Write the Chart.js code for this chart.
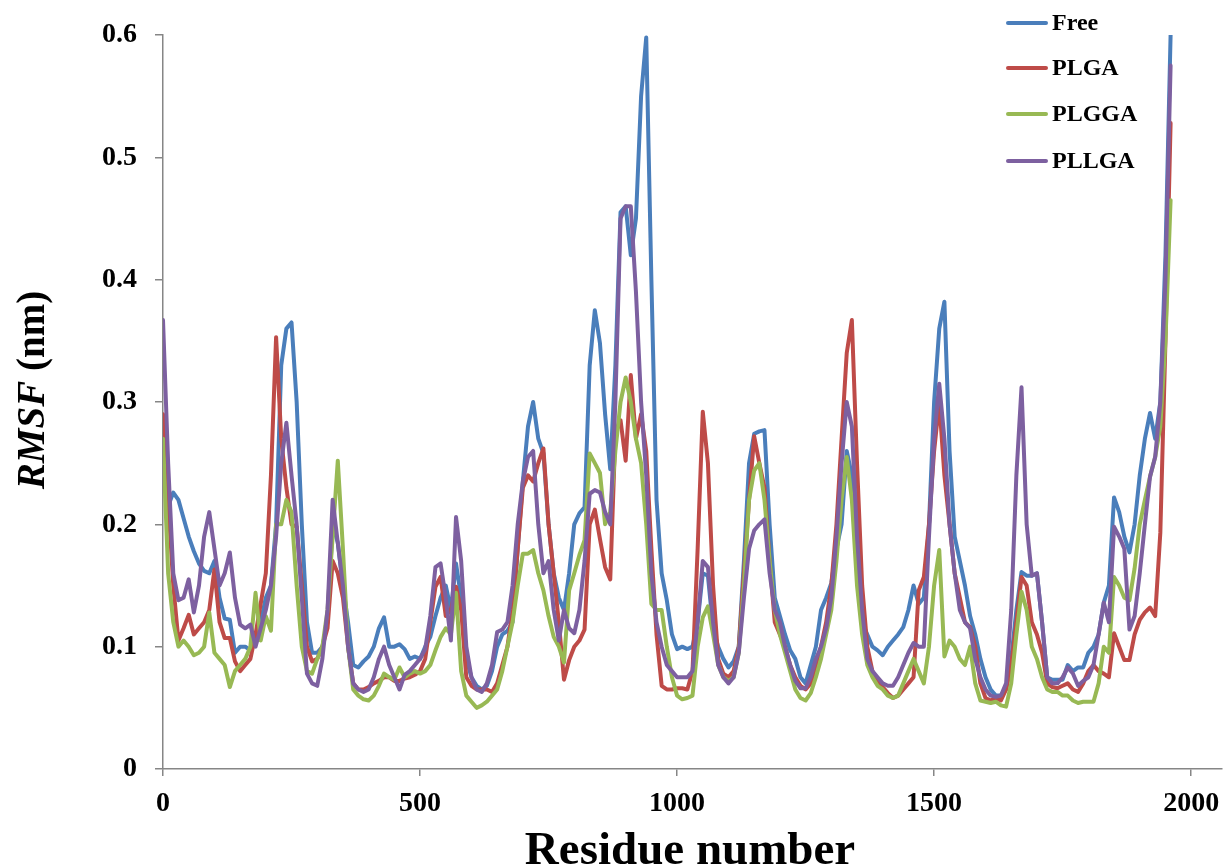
<!DOCTYPE html>
<html>
<head>
<meta charset="utf-8">
<script src="https://cdn.jsdelivr.net/npm/chart.js@4.4.1/dist/chart.umd.min.js"></script>
<style>
html,body{margin:0;padding:0;background:#ffffff;}
#wrap{width:1226px;height:868px;position:relative;}
canvas{display:block;}
</style>
</head>
<body>
<div id="wrap"><canvas id="c" width="1226" height="868"></canvas></div>
<script>
// ---- data ----
const residues = [
0,10,20,30,40,50,60,70,80,90,
100,110,120,130,140,150,160,170,180,190,
200,210,220,230,240,250,260,270,280,290,
300,310,320,330,340,350,360,370,380,390,
400,410,420,430,440,450,460,470,480,490,
500,510,520,530,540,550,560,570,580,590,
600,610,620,630,640,650,660,670,680,690,
700,710,720,730,740,750,760,770,780,790,
800,810,820,830,840,850,860,870,880,890,
900,910,920,930,940,950,960,970,980,990,
1000,1010,1020,1030,1040,1050,1060,1070,1080,1090,
1100,1110,1120,1130,1140,1150,1160,1170,1180,1190,
1200,1210,1220,1230,1240,1250,1260,1270,1280,1290,
1300,1310,1320,1330,1340,1350,1360,1370,1380,1390,
1400,1410,1420,1430,1440,1450,1460,1470,1480,1490,
1500,1510,1520,1530,1540,1550,1560,1570,1580,1590,
1600,1610,1620,1630,1640,1650,1660,1670,1680,1690,
1700,1710,1720,1730,1740,1750,1760,1770,1780,1790,
1800,1810,1820,1830,1840,1850,1860,1870,1880,1890,
1900,1910,1920,1930,1940,1950,1960
];

const rmsfFree = [
0.27,0.215,0.226,0.22,0.205,0.19,0.178,0.168,0.162,0.16,
0.17,0.14,0.123,0.122,0.095,0.1,0.1,0.097,0.108,0.12,
0.14,0.15,0.2,0.33,0.36,0.365,0.3,0.2,0.12,0.095,
0.095,0.1,0.12,0.2,0.185,0.15,0.12,0.085,0.083,0.088,
0.092,0.1,0.115,0.124,0.1,0.1,0.102,0.098,0.09,0.092,
0.09,0.1,0.108,0.125,0.14,0.15,0.13,0.168,0.14,0.09,
0.075,0.068,0.065,0.068,0.08,0.1,0.11,0.113,0.12,0.18,
0.235,0.28,0.3,0.27,0.258,0.2,0.16,0.14,0.13,0.16,
0.2,0.209,0.214,0.33,0.375,0.348,0.29,0.245,0.33,0.455,
0.46,0.42,0.45,0.55,0.598,0.4,0.22,0.16,0.138,0.11,
0.098,0.1,0.098,0.1,0.12,0.16,0.158,0.115,0.1,0.09,
0.083,0.088,0.1,0.17,0.25,0.274,0.276,0.277,0.2,0.14,
0.125,0.11,0.097,0.09,0.075,0.07,0.085,0.1,0.13,0.14,
0.152,0.18,0.2,0.26,0.24,0.17,0.12,0.11,0.1,0.097,
0.093,0.1,0.105,0.11,0.116,0.13,0.15,0.135,0.14,0.2,
0.3,0.36,0.382,0.26,0.19,0.17,0.15,0.125,0.11,0.09,
0.075,0.065,0.06,0.06,0.065,0.09,0.13,0.161,0.158,0.158,
0.16,0.12,0.075,0.073,0.073,0.073,0.085,0.08,0.083,0.083,
0.095,0.1,0.11,0.136,0.15,0.222,0.21,0.19,0.177,0.2,
0.24,0.27,0.291,0.27,0.3,0.42,0.6
];

const rmsfPLGA = [
0.29,0.22,0.15,0.105,0.115,0.126,0.11,0.115,0.12,0.13,
0.163,0.12,0.107,0.107,0.088,0.08,0.085,0.09,0.11,0.135,
0.16,0.24,0.353,0.27,0.23,0.2,0.198,0.15,0.1,0.088,
0.09,0.1,0.115,0.17,0.16,0.14,0.1,0.07,0.065,0.065,
0.067,0.07,0.072,0.075,0.075,0.072,0.072,0.074,0.075,0.077,
0.08,0.09,0.12,0.149,0.157,0.125,0.13,0.149,0.13,0.075,
0.068,0.065,0.065,0.065,0.063,0.07,0.085,0.1,0.13,0.18,
0.23,0.24,0.235,0.25,0.262,0.2,0.16,0.12,0.073,0.089,
0.1,0.105,0.114,0.2,0.212,0.188,0.165,0.155,0.275,0.285,
0.252,0.322,0.27,0.29,0.26,0.18,0.11,0.068,0.065,0.065,
0.066,0.066,0.065,0.08,0.18,0.292,0.25,0.15,0.09,0.078,
0.075,0.08,0.1,0.16,0.22,0.272,0.25,0.23,0.17,0.12,
0.11,0.1,0.085,0.075,0.068,0.065,0.07,0.085,0.1,0.12,
0.15,0.2,0.27,0.34,0.367,0.25,0.15,0.1,0.08,0.072,
0.067,0.062,0.058,0.06,0.065,0.07,0.075,0.146,0.157,0.2,
0.26,0.3,0.24,0.2,0.16,0.14,0.12,0.116,0.1,0.07,
0.058,0.056,0.058,0.056,0.065,0.085,0.12,0.157,0.15,0.12,
0.11,0.095,0.07,0.067,0.066,0.068,0.07,0.065,0.063,0.07,
0.08,0.085,0.08,0.078,0.075,0.111,0.1,0.089,0.089,0.11,
0.122,0.128,0.132,0.125,0.193,0.35,0.528
];

const rmsfPLGGA = [
0.27,0.16,0.12,0.1,0.105,0.1,0.093,0.095,0.1,0.128,
0.095,0.09,0.085,0.067,0.08,0.085,0.09,0.1,0.144,0.105,
0.125,0.113,0.2,0.2,0.22,0.21,0.15,0.1,0.08,0.078,
0.09,0.1,0.13,0.19,0.252,0.18,0.1,0.065,0.06,0.057,
0.056,0.06,0.068,0.078,0.075,0.073,0.083,0.075,0.078,0.08,
0.078,0.08,0.085,0.097,0.108,0.115,0.11,0.144,0.08,0.06,
0.055,0.05,0.052,0.055,0.06,0.065,0.08,0.1,0.12,0.15,
0.176,0.176,0.179,0.16,0.146,0.125,0.108,0.1,0.087,0.146,
0.16,0.175,0.187,0.258,0.25,0.242,0.2,0.21,0.26,0.3,
0.32,0.3,0.27,0.25,0.2,0.135,0.13,0.13,0.1,0.075,
0.06,0.057,0.058,0.06,0.1,0.124,0.133,0.11,0.085,0.075,
0.072,0.075,0.095,0.15,0.22,0.244,0.25,0.22,0.17,0.13,
0.11,0.095,0.08,0.065,0.058,0.056,0.062,0.075,0.09,0.11,
0.13,0.17,0.22,0.255,0.22,0.15,0.11,0.085,0.075,0.068,
0.065,0.06,0.058,0.06,0.07,0.08,0.09,0.08,0.07,0.1,
0.15,0.179,0.092,0.105,0.1,0.09,0.085,0.1,0.07,0.056,
0.055,0.054,0.055,0.052,0.051,0.07,0.11,0.145,0.13,0.1,
0.09,0.075,0.065,0.063,0.063,0.06,0.06,0.056,0.054,0.055,
0.055,0.055,0.07,0.1,0.095,0.157,0.15,0.14,0.138,0.164,
0.2,0.22,0.239,0.255,0.28,0.35,0.465
];

const rmsfPLLGA = [
0.367,0.25,0.16,0.138,0.14,0.155,0.128,0.15,0.19,0.21,
0.18,0.15,0.16,0.177,0.14,0.118,0.115,0.118,0.1,0.115,
0.13,0.15,0.19,0.25,0.283,0.24,0.2,0.14,0.078,0.07,
0.068,0.09,0.13,0.22,0.185,0.15,0.1,0.07,0.065,0.063,
0.065,0.075,0.09,0.1,0.085,0.075,0.065,0.077,0.08,0.085,
0.09,0.098,0.125,0.165,0.168,0.14,0.105,0.206,0.17,0.1,
0.075,0.065,0.063,0.07,0.085,0.112,0.114,0.12,0.15,0.2,
0.235,0.255,0.26,0.2,0.16,0.17,0.13,0.105,0.13,0.115,
0.111,0.13,0.17,0.225,0.228,0.226,0.21,0.2,0.3,0.45,
0.46,0.46,0.39,0.3,0.24,0.16,0.12,0.1,0.085,0.08,
0.075,0.075,0.075,0.08,0.12,0.17,0.165,0.12,0.085,0.075,
0.07,0.075,0.095,0.14,0.18,0.195,0.2,0.204,0.16,0.13,
0.12,0.1,0.085,0.072,0.066,0.066,0.075,0.09,0.1,0.115,
0.14,0.19,0.25,0.3,0.28,0.19,0.13,0.09,0.08,0.075,
0.07,0.068,0.068,0.075,0.085,0.095,0.103,0.1,0.1,0.19,
0.27,0.315,0.27,0.2,0.16,0.13,0.12,0.115,0.09,0.075,
0.065,0.06,0.059,0.06,0.07,0.13,0.24,0.312,0.2,0.158,
0.16,0.12,0.075,0.07,0.07,0.075,0.083,0.078,0.068,0.072,
0.075,0.085,0.11,0.136,0.12,0.198,0.19,0.18,0.114,0.125,
0.16,0.2,0.239,0.255,0.3,0.4,0.575
];

const seriesNames = ['Free', 'PLGA', 'PLGGA', 'PLLGA'];
const seriesColors = ['#4A7EBB', '#BE4B48', '#98B954', '#7D60A0'];
const xTickValues = [0, 500, 1000, 1500, 2000];
const yTickValues = [0, 0.1, 0.2, 0.3, 0.4, 0.5, 0.6];
const xTitle = 'Residue number';
const yTitleItalic = 'RMSF';
const yTitleRest = ' (nm)';

// ---- chart ----
const FONT = '"Liberation Serif", "Times New Roman", Times, serif';
const AXIS_GREY = '#868686';
const allSeries = [rmsfFree, rmsfPLGA, rmsfPLGGA, rmsfPLLGA];

const datasets = allSeries.map((vals, i) => ({
  label: seriesNames[i],
  data: residues.map((r, k) => ({x: r, y: vals[k]})),
  borderColor: seriesColors[i],
  backgroundColor: seriesColors[i],
  borderWidth: 4,
  pointRadius: 0,
  pointHoverRadius: 0,
  tension: 0,
  fill: false,
  borderJoinStyle: 'round',
  borderCapStyle: 'round',
  order: allSeries.length - i
}));

const overlay = {
  id: 'overlay',
  afterDraw(chart) {
    const ctx = chart.ctx;
    ctx.save();
    // legend
    const rows = [23, 68, 114, 161];
    ctx.font = 'bold 24px ' + FONT;
    ctx.textBaseline = 'middle';
    ctx.textAlign = 'left';
    seriesNames.forEach((name, i) => {
      const y = rows[i];
      ctx.strokeStyle = seriesColors[i];
      ctx.lineWidth = 4;
      ctx.lineCap = 'round';
      ctx.beginPath();
      ctx.moveTo(1008, y);
      ctx.lineTo(1046, y);
      ctx.stroke();
      ctx.fillStyle = '#000';
      ctx.fillText(name, 1052, y + 1);
    });
    // x title
    ctx.font = 'bold 47px ' + FONT;
    ctx.textAlign = 'center';
    ctx.textBaseline = 'alphabetic';
    ctx.fillStyle = '#000';
    ctx.fillText(xTitle, 690, 864);
    // y title (rotated)
    ctx.translate(44, 390);
    ctx.rotate(-Math.PI / 2);
    const fItal = 'italic bold 39px ' + FONT;
    const fNorm = 'bold 39px ' + FONT;
    ctx.font = fItal;
    const w1 = ctx.measureText(yTitleItalic).width;
    ctx.font = fNorm;
    const w2 = ctx.measureText(yTitleRest).width;
    const start = -(w1 + w2) / 2;
    ctx.textAlign = 'left';
    ctx.font = fItal;
    ctx.fillText(yTitleItalic, start, 0);
    ctx.font = fNorm;
    ctx.fillText(yTitleRest, start + w1, 0);
    ctx.restore();
  }
};

new Chart(document.getElementById('c'), {
  type: 'line',
  data: { datasets },
  options: {
    responsive: false,
    animation: false,
    devicePixelRatio: 1,
    layout: { padding: { top: 35, right: 4, left: 0, bottom: 0 } },
    plugins: { legend: { display: false }, tooltip: { enabled: false } },
    scales: {
      x: {
        type: 'linear',
        min: 0,
        max: 2060,
        afterBuildTicks(scale) { scale.ticks = xTickValues.map(v => ({ value: v })); },
        ticks: {
          color: '#000',
          font: { family: FONT, size: 28, weight: 'bold' },
          padding: 11,
          maxRotation: 0,
          autoSkip: false,
          callback: v => String(v)
        },
        grid: { display: true, drawOnChartArea: false, drawTicks: true, tickLength: 7, color: AXIS_GREY, lineWidth: 1.5 },
        border: { display: true, color: AXIS_GREY, width: 1.5 },
        afterFit(scale) { scale.height = 99; scale.paddingLeft = 0; scale.paddingRight = 0; }
      },
      y: {
        type: 'linear',
        min: 0,
        max: 0.6,
        afterBuildTicks(scale) { scale.ticks = yTickValues.map(v => ({ value: v })); },
        ticks: {
          color: '#000',
          font: { family: FONT, size: 28, weight: 'bold' },
          padding: 18,
          callback: v => String(Number(v.toFixed(1)))
        },
        grid: { display: true, drawOnChartArea: false, drawTicks: true, tickLength: 8, color: AXIS_GREY, lineWidth: 1.5 },
        border: { display: true, color: AXIS_GREY, width: 1.5 },
        afterFit(scale) { scale.width = 163; }
      }
    }
  },
  plugins: [overlay]
});
</script>
</body>
</html>
